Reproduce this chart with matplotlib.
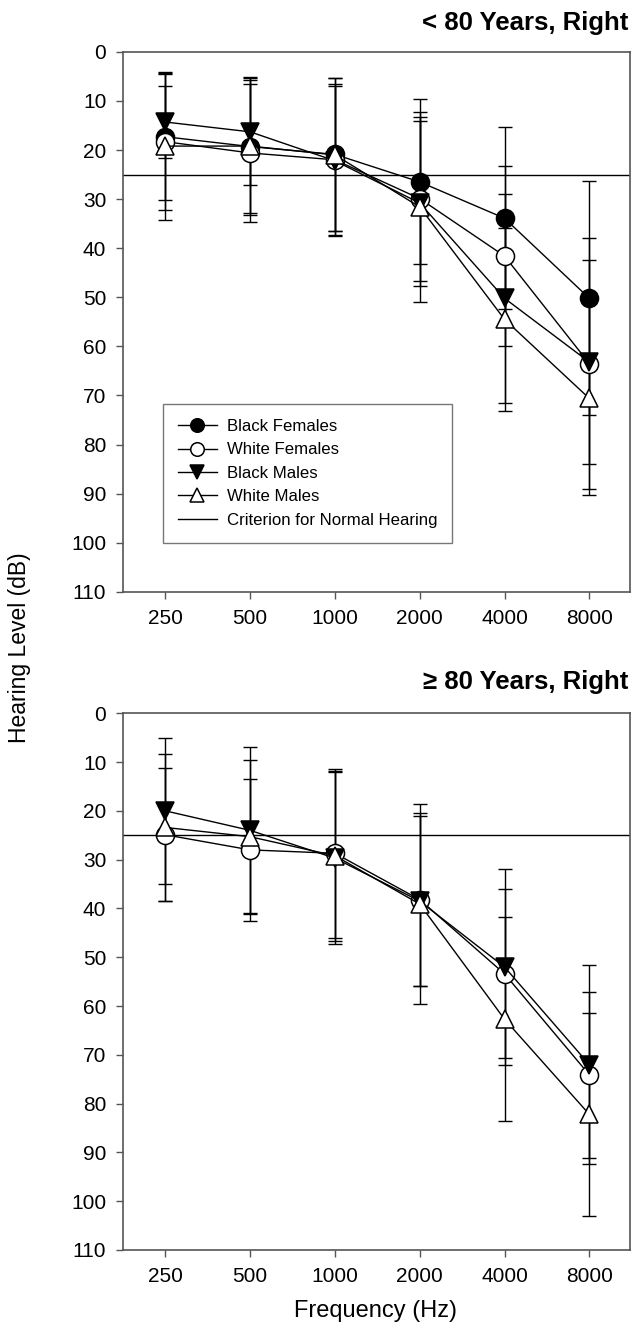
#!/usr/bin/env python
# -*- coding: utf-8 -*-
"""Audiogram panels: mean hearing level (+/- SD) by race and sex, right ear"""

import matplotlib.pyplot as plt
import numpy as np

plt.rcParams['font.family'] = ['Liberation Sans', 'DejaVu Sans']

freq_labels = ['250', '500', '1000', '2000', '4000', '8000']
y_ticks = list(range(0, 111, 10))
criterion_db = 25

# < 80 years, right ear (mean and SD, dB HL)
young_bf_mean = [17.3, 19.3, 20.9, 26.5, 33.9, 50.2]
young_bf_sd = [12.8, 13.5, 15.6, 16.8, 18.5, 23.8]
young_wf_mean = [18.3, 20.6, 22.0, 29.9, 41.6, 63.5]
young_wf_sd = [14.0, 14.0, 15.5, 16.7, 18.3, 25.6]
young_bm_mean = [14.3, 16.3, 22.2, 30.8, 50.2, 63.2]
young_bm_sd = [7.4, 10.9, 15.2, 16.8, 21.3, 20.8]
young_wm_mean = [19.2, 19.2, 21.0, 31.6, 54.5, 70.6]
young_wm_sd = [15.0, 14.0, 15.6, 19.4, 18.7, 19.7]

# >= 80 years, right ear (no black females plotted)
old_wf_mean = [24.9, 28.0, 28.7, 38.2, 53.4, 74.1]
old_wf_sd = [13.6, 14.6, 17.3, 17.8, 17.3, 17.0]
old_bm_mean = [20.0, 24.0, 29.7, 38.5, 52.0, 72.0]
old_bm_sd = [14.9, 17.1, 17.6, 17.5, 20.1, 20.4]
old_wm_mean = [23.4, 25.3, 29.2, 39.1, 62.7, 82.2]
old_wm_sd = [15.1, 15.7, 17.4, 20.5, 20.9, 20.8]

# marker style per group: (label, marker, face colour)
STYLES = {
    'bf': ('Black Females', 'o', 'black'),
    'wf': ('White Females', 'o', 'white'),
    'bm': ('Black Males', 'v', 'black'),
    'wm': ('White Males', '^', 'white'),
}
AXIS_COL = '#555555'


def plot_panel(axes, series):
    """
    Draws one audiogram panel
    :param axes: matplotlib axes
    :param series: list of (key, means, sds)
    :return: none
    """
    x_pos = np.arange(len(freq_labels))
    # error bars first so that markers sit on top of them
    for _, means, sds in series:
        axes.errorbar(x_pos, means, yerr=sds, fmt='none', ecolor='black',
                      elinewidth=1, capsize=5, capthick=1, zorder=2)
    for key, means, _ in series:
        label, marker, face = STYLES[key]
        axes.plot(x_pos, means, color='black', lw=1, marker=marker, ms=13,
                  mfc=face, mec='black', mew=1.1, label=label, zorder=3)
    axes.axhline(criterion_db, color='black', lw=1,
                 label='Criterion for Normal Hearing', zorder=1)

    axes.set_xlim(-0.5, 5.48)
    axes.set_ylim(110, 0)
    axes.set_xticks(x_pos)
    axes.set_xticklabels(freq_labels)
    axes.set_yticks(y_ticks)
    axes.tick_params(direction='out', length=5, width=1, color=AXIS_COL,
                     labelsize=15, pad=7, top=False, right=False)
    for spine in axes.spines.values():
        spine.set_color(AXIS_COL)
        spine.set_linewidth(1.2)


fig = plt.figure(figsize=(6.37, 13.39), dpi=100)
ax_top = fig.add_axes([0.193, 0.558, 0.796, 0.4033])
ax_bot = fig.add_axes([0.193, 0.0665, 0.796, 0.4008])

plot_panel(ax_top, [('bf', young_bf_mean, young_bf_sd),
                    ('wf', young_wf_mean, young_wf_sd),
                    ('bm', young_bm_mean, young_bm_sd),
                    ('wm', young_wm_mean, young_wm_sd)])
plot_panel(ax_bot, [('wf', old_wf_mean, old_wf_sd),
                    ('bm', old_bm_mean, old_bm_sd),
                    ('wm', old_wm_mean, old_wm_sd)])

leg = ax_top.legend(loc='upper left', bbox_to_anchor=(0.079, 0.348),
                    borderaxespad=0, fontsize=12.1, frameon=True, fancybox=False,
                    markerscale=0.75, handlelength=2.3, handletextpad=0.6,
                    labelspacing=0.5, borderpad=0.9)
leg.get_frame().set_edgecolor(AXIS_COL)
leg.get_frame().set_linewidth(1)

fig.text(0.986, 0.9826, '< 80 Years, Right', ha='right', va='center',
         fontsize=18.5, fontweight='bold')
fig.text(0.986, 0.4909, '\u2265 80 Years, Right', ha='right', va='center',
         fontsize=18.5, fontweight='bold')
fig.text(0.031, 0.516, 'Hearing Level (dB)', rotation=90, ha='center',
         va='center', fontsize=16.5)
fig.text(0.59, 0.021, 'Frequency (Hz)', ha='center', va='center',
         fontsize=17)

plt.savefig('out.png', dpi=100)
